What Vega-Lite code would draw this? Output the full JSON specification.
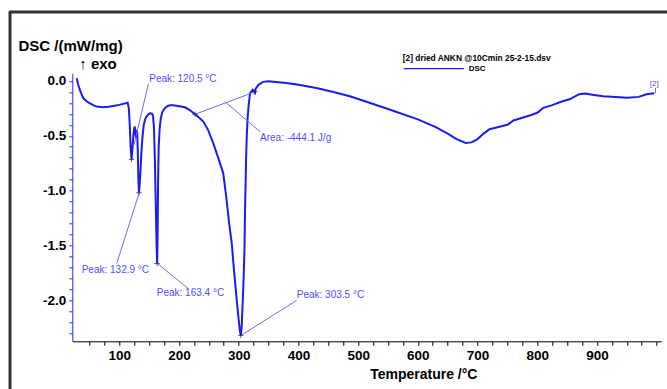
{
  "$schema": "https://vega.github.io/schema/vega-lite/v6.json",
  "width": 589,
  "height": 268,
  "autosize": "none",
  "padding": {"left": 72.3, "top": 73.3, "right": 5.7, "bottom": 47.7},
  "background": "white",
  "config": {"view": {"stroke": null}, "font": "Liberation Sans"},
  "datasets": {
    "curve": [
      {"T": 28.7, "v": 0.025}, {"T": 31, "v": -0.03}, {"T": 34, "v": -0.082}, {"T": 37, "v": -0.125},
      {"T": 40, "v": -0.158}, {"T": 45, "v": -0.185}, {"T": 51, "v": -0.204}, {"T": 57, "v": -0.222},
      {"T": 62, "v": -0.232}, {"T": 73, "v": -0.24}, {"T": 82, "v": -0.236}, {"T": 90, "v": -0.228},
      {"T": 100, "v": -0.218}, {"T": 109.6, "v": -0.204}, {"T": 114, "v": -0.198}, {"T": 116, "v": -0.25},
      {"T": 117.5, "v": -0.4}, {"T": 119, "v": -0.6}, {"T": 120.5, "v": -0.715}, {"T": 122, "v": -0.62},
      {"T": 123.5, "v": -0.5}, {"T": 125, "v": -0.43}, {"T": 126, "v": -0.415}, {"T": 127, "v": -0.47},
      {"T": 128, "v": -0.52}, {"T": 129, "v": -0.45}, {"T": 130, "v": -0.47}, {"T": 131, "v": -0.65},
      {"T": 132, "v": -0.9}, {"T": 132.9, "v": -1.02}, {"T": 134, "v": -0.95}, {"T": 135.5, "v": -0.82},
      {"T": 137, "v": -0.65}, {"T": 139, "v": -0.5}, {"T": 141, "v": -0.4}, {"T": 143, "v": -0.355},
      {"T": 145.5, "v": -0.325}, {"T": 148, "v": -0.31}, {"T": 150, "v": -0.298}, {"T": 152.6, "v": -0.295},
      {"T": 155, "v": -0.3}, {"T": 156.5, "v": -0.32}, {"T": 158, "v": -0.42}, {"T": 159.5, "v": -0.7},
      {"T": 161, "v": -1.1}, {"T": 162.5, "v": -1.5}, {"T": 163.4, "v": -1.665}, {"T": 164.2, "v": -1.4},
      {"T": 165, "v": -0.9}, {"T": 166, "v": -0.6}, {"T": 167.5, "v": -0.44}, {"T": 169.5, "v": -0.34},
      {"T": 172, "v": -0.285}, {"T": 176.6, "v": -0.245}, {"T": 181, "v": -0.228}, {"T": 185, "v": -0.222},
      {"T": 190, "v": -0.222}, {"T": 196, "v": -0.226}, {"T": 203, "v": -0.232}, {"T": 210, "v": -0.24},
      {"T": 218, "v": -0.265}, {"T": 226.8, "v": -0.304}, {"T": 233, "v": -0.33}, {"T": 240.7, "v": -0.37},
      {"T": 249, "v": -0.45}, {"T": 257.5, "v": -0.57}, {"T": 265, "v": -0.69}, {"T": 274, "v": -0.84},
      {"T": 279, "v": -1.05}, {"T": 284, "v": -1.3}, {"T": 288.3, "v": -1.48}, {"T": 292, "v": -1.72},
      {"T": 296.7, "v": -2.0}, {"T": 300, "v": -2.18}, {"T": 302, "v": -2.28}, {"T": 303.5, "v": -2.32},
      {"T": 305, "v": -2.24}, {"T": 306.8, "v": -2.0}, {"T": 308.5, "v": -1.75}, {"T": 309.6, "v": -1.54},
      {"T": 310.6, "v": -1.18}, {"T": 311.5, "v": -0.95}, {"T": 312.3, "v": -0.72}, {"T": 313.5, "v": -0.5},
      {"T": 315, "v": -0.33}, {"T": 316.5, "v": -0.23}, {"T": 319, "v": -0.11}, {"T": 323.5, "v": -0.08},
      {"T": 325.5, "v": -0.1}, {"T": 327, "v": -0.11}, {"T": 328.5, "v": -0.07}, {"T": 333, "v": -0.035},
      {"T": 341, "v": -0.008}, {"T": 350, "v": -0.003}, {"T": 358, "v": -0.006}, {"T": 380, "v": -0.018},
      {"T": 402.7, "v": -0.037}, {"T": 430, "v": -0.065}, {"T": 458.5, "v": -0.1}, {"T": 486, "v": -0.14},
      {"T": 514, "v": -0.19}, {"T": 550, "v": -0.255}, {"T": 600, "v": -0.35}, {"T": 630, "v": -0.42},
      {"T": 650, "v": -0.48}, {"T": 665, "v": -0.53}, {"T": 680, "v": -0.565}, {"T": 690, "v": -0.56},
      {"T": 700, "v": -0.53}, {"T": 710, "v": -0.48}, {"T": 720, "v": -0.44}, {"T": 735, "v": -0.42},
      {"T": 750, "v": -0.4}, {"T": 760, "v": -0.36}, {"T": 775, "v": -0.335}, {"T": 790, "v": -0.31},
      {"T": 800, "v": -0.29}, {"T": 810, "v": -0.245}, {"T": 825, "v": -0.22}, {"T": 840, "v": -0.19},
      {"T": 855, "v": -0.165}, {"T": 870, "v": -0.12}, {"T": 880, "v": -0.115}, {"T": 895, "v": -0.128},
      {"T": 910, "v": -0.14}, {"T": 925, "v": -0.143}, {"T": 950, "v": -0.152}, {"T": 970, "v": -0.145},
      {"T": 983, "v": -0.122}, {"T": 996, "v": -0.113}
    ],
    "labels": [
      {"T": 150.1, "v": 0.015, "label": "Peak: 120.5 °C"},
      {"T": 37.0, "v": -1.726, "label": "Peak: 132.9 °C"},
      {"T": 162.7, "v": -1.933, "label": "Peak: 163.4 °C"},
      {"T": 397.2, "v": -1.948, "label": "Peak: 303.5 °C"},
      {"T": 335.7, "v": -0.523, "label": "Area: -444.1 J/g"}
    ],
    "leaders": [
      {"T1": 148.6, "v1": -0.027, "T2": 124.7, "v2": -0.584},
      {"T1": 95.7, "v1": -1.665, "T2": 133.0, "v2": -1.026},
      {"T1": 163.7, "v1": -1.665, "T2": 215.6, "v2": -1.894},
      {"T1": 303.9, "v1": -2.32, "T2": 397.2, "v2": -2.0},
      {"T1": 277.1, "v1": -0.189, "T2": 335.7, "v2": -0.463},
      {"T1": 226.8, "v1": -0.304, "T2": 327.4, "v2": -0.098},
      {"T1": 998, "v1": -0.065, "T2": 998, "v2": -0.11}
    ],
    "crosses": [
      {"T": 120.5, "v": -0.715}, {"T": 132.9, "v": -1.02}, {"T": 163.4, "v": -1.665},
      {"T": 303.5, "v": -2.32}, {"T": 226.8, "v": -0.304}, {"T": 327.4, "v": -0.098}
    ]
  },
  "layer": [
    {
      "data": {"values": [{}]},
      "mark": {"type": "rule", "color": "#333333", "strokeWidth": 3},
      "encoding": {
        "x": {"datum": -83},
        "y": {"datum": 0.63},
        "y2": {"datum": -2.9}
      }
    },
    {
      "data": {"values": [{}]},
      "mark": {"type": "rule", "color": "#333333", "strokeWidth": 3},
      "encoding": {
        "x": {"datum": -85},
        "x2": {"datum": 1040},
        "y": {"datum": 0.63}
      }
    },
    {
      "data": {"name": "curve"},
      "transform": [{"calculate": "'DSC'", "as": "series"}],
      "mark": {"type": "line", "strokeWidth": 2, "clip": false},
      "encoding": {
        "x": {
          "field": "T", "type": "quantitative",
          "scale": {"domain": [21.3, 1007.7], "nice": false, "zero": false},
          "axis": {
            "title": "Temperature /°C",
            "values": [50,75,100,125,150,175,200,225,250,275,300,325,350,375,400,425,450,475,500,525,550,575,600,625,650,675,700,725,750,775,800,825,850,875,900,925,950,975,1000],
            "tickCount": 1000,
            "format": "d",
            "labelExpr": "(datum.value % 100 === 0 && datum.value < 1000) ? datum.label : ''",
            "grid": false,
            "domainColor": "black",
            "tickColor": "black",
            "tickSize": 4,
            "labelFont": "Liberation Sans",
            "labelFontWeight": "bold",
            "labelFontSize": 13.5,
            "labelColor": "black",
            "labelPadding": 3,
            "labelFlush": false,
            "labelOverlap": false,
            "titleFont": "Liberation Sans",
            "titleFontSize": 14,
            "titleFontWeight": "bold",
            "titleColor": "black",
            "titleAnchor": "start",
            "titleAlign": "center",
            "titleX": 351,
            "titleY": 37,
            "titleBaseline": "alphabetic"
          }
        },
        "y": {
          "field": "v", "type": "quantitative",
          "scale": {"domain": [-2.374, 0.07], "nice": false, "zero": false},
          "axis": {
            "title": "DSC /(mW/mg)",
            "values": [-2.3,-2.2,-2.1,-2.0,-1.9,-1.8,-1.7,-1.6,-1.5,-1.4,-1.3,-1.2,-1.1,-1.0,-0.9,-0.8,-0.7,-0.6,-0.5,-0.4,-0.3,-0.2,-0.1,0.0],
            "tickCount": 1000,
            "labelExpr": "abs(datum.value * 2 - round(datum.value * 2)) < 0.000001 ? replace(format(datum.value, '.1f'), '−', '-') : ''",
            "grid": false,
            "domainColor": "#2a2aff",
            "tickColor": "#2a2aff",
            "tickSize": 3.5,
            "labelFont": "Liberation Sans",
            "labelFontWeight": "bold",
            "labelFontSize": 13.5,
            "labelColor": "black",
            "labelPadding": 3,
            "labelFlush": false,
            "labelOverlap": false,
            "titleFont": "Liberation Sans",
            "titleFontSize": 15,
            "titleFontWeight": "bold",
            "titleColor": "black",
            "titleAngle": 0,
            "titleAlign": "left",
            "titleBaseline": "middle",
            "titleX": -54.3,
            "titleY": -28.3
          }
        },
        "color": {
          "field": "series", "type": "nominal",
          "scale": {"range": ["#1c1cf2"]},
          "legend": {
            "orient": "none",
            "legendX": 330.4,
            "legendY": -19,
            "title": "[2] dried ANKN @10Cmin 25-2-15.dsv",
            "titleFont": "Liberation Sans",
            "titleFontSize": 8.4,
            "titleFontWeight": "bold",
            "titleColor": "black",
            "titlePadding": 0,
            "labelFont": "Liberation Sans",
            "labelFontSize": 8,
            "labelFontWeight": "bold",
            "labelColor": "black",
            "labelOffset": 54,
            "symbolType": "M-1,0H11",
            "symbolSize": 100,
            "symbolStrokeWidth": 1.2,
            "symbolStrokeColor": "#7272ff"
          }
        }
      }
    },
    {
      "data": {"name": "leaders"},
      "mark": {"type": "rule", "color": "#6a6aff", "strokeWidth": 1},
      "encoding": {
        "x": {"field": "T1", "type": "quantitative"},
        "y": {"field": "v1", "type": "quantitative"},
        "x2": {"field": "T2"},
        "y2": {"field": "v2"}
      }
    },
    {
      "data": {"name": "crosses"},
      "mark": {"type": "point", "shape": "M-1,0H1M0,-1V1", "filled": false, "stroke": "#222222", "strokeWidth": 1, "size": 30},
      "encoding": {
        "x": {"field": "T", "type": "quantitative"},
        "y": {"field": "v", "type": "quantitative"}
      }
    },
    {
      "data": {"name": "labels"},
      "mark": {"type": "text", "align": "left", "baseline": "middle", "font": "Liberation Sans", "fontSize": 10, "color": "#4f4fff"},
      "encoding": {
        "x": {"field": "T", "type": "quantitative"},
        "y": {"field": "v", "type": "quantitative"},
        "text": {"field": "label"}
      }
    },
    {
      "data": {"values": [{"label": "↑ exo"}]},
      "mark": {"type": "text", "align": "center", "baseline": "middle", "font": "Liberation Sans", "fontSize": 15, "fontWeight": "bold", "color": "black"},
      "encoding": {
        "x": {"datum": 64.3},
        "y": {"datum": 0.155},
        "text": {"field": "label"}
      }
    },
    {
      "data": {"values": [{"label": "[2]"}]},
      "mark": {"type": "text", "align": "center", "baseline": "middle", "font": "Liberation Sans", "fontSize": 8, "color": "#4f4fff"},
      "encoding": {
        "x": {"datum": 996},
        "y": {"datum": -0.03},
        "text": {"field": "label"}
      }
    }
  ]
}
